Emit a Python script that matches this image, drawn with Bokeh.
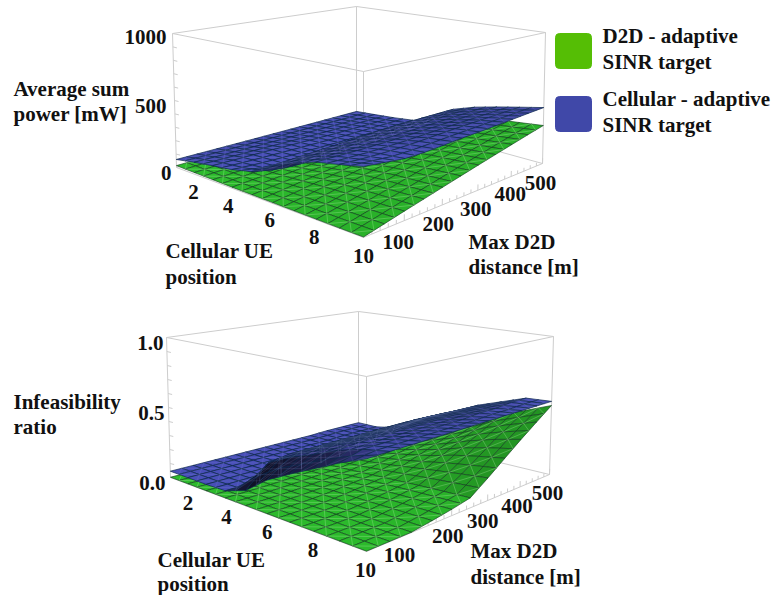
import numpy as np
from bokeh.plotting import figure
from bokeh.models import Range1d, ColumnDataSource
from bokeh.core.properties import value
from bokeh.embed import file_html
from bokeh.resources import INLINE

# ---------- data ----------
POSITIONS = [1, 2, 3, 4, 5, 6, 7, 8, 9, 10]
DISTANCES = [0, 50, 100, 150, 200, 250, 300, 350, 400, 450, 500]

# rows: distance, columns: cellular UE position
POWER_D2D = [
    [14, 12, 10, 8, 7, 6, 5, 4, 3, 3],
    [12, 12, 11, 12, 16, 19, 23, 27, 29, 31],
    [10, 11, 11, 15, 24, 35, 44, 50, 55, 60],
    [9, 10, 12, 19, 34, 50, 64, 74, 81, 88],
    [8, 9, 14, 24, 44, 67, 85, 100, 108, 117],
    [7, 9, 15, 29, 55, 84, 107, 125, 135, 146],
    [6, 9, 17, 35, 66, 100, 129, 150, 162, 175],
    [6, 10, 20, 41, 77, 118, 150, 175, 189, 204],
    [5, 10, 23, 46, 88, 135, 172, 200, 216, 233],
    [5, 12, 26, 52, 99, 151, 193, 225, 243, 262],
    [5, 14, 29, 58, 110, 168, 215, 250, 270, 290],
]
POWER_CELL = [
    [60, 87, 110, 130, 165, 250, 314, 365, 395, 428],
    [55, 80, 104, 116, 130, 252, 312, 360, 385, 410],
    [50, 74, 98, 106, 112, 255, 310, 355, 378, 392],
    [45, 68, 92, 98, 104, 256, 310, 352, 376, 390],
    [40, 62, 84, 92, 100, 258, 310, 350, 378, 395],
    [35, 56, 76, 86, 96, 260, 310, 350, 382, 402],
    [30, 50, 68, 80, 94, 262, 310, 350, 385, 405],
    [25, 44, 62, 76, 92, 260, 310, 350, 387, 410],
    [20, 38, 57, 72, 92, 258, 310, 351, 388, 416],
    [15, 32, 51, 70, 96, 254, 309, 352, 389, 422],
    [10, 27, 45, 68, 104, 250, 309, 352, 390, 427],
]
INFEAS_D2D = [
    [.002, .002, .002, .002, .002, .002, .002, .002, .002, .002],
    [.001, .001, .001, .001, .001, .001, .001, .001, .001, .002],
    [.001, .001, .001, .001, .002, .002, .002, .002, .002, .002],
    [.002, .002, .003, .004, .006, .008, .011, .014, .017, .02],
    [.003, .004, .005, .008, .014, .02, .025, .032, .036, .04],
    [.004, .005, .007, .012, .02, .03, .04, .05, .058, .065],
    [.005, .007, .012, .024, .04, .06, .084, .108, .13, .15],
    [.006, .01, .02, .04, .065, .095, .13, .175, .21, .24],
    [.008, .013, .026, .052, .085, .13, .18, .24, .29, .33],
    [.01, .017, .034, .066, .108, .165, .225, .30, .36, .415],
    [.012, .02, .04, .08, .13, .20, .27, .36, .43, .50],
]
INFEAS_CELL = [
    [.045, .045, .045, .05, .10, .216, .30, .38, .46, .53],
    [.045, .045, .045, .05, .24, .32, .38, .45, .50, .53],
    [.045, .045, .045, .05, .26, .33, .40, .46, .50, .53],
    [.045, .045, .045, .05, .26, .33, .40, .46, .50, .53],
    [.045, .045, .045, .05, .26, .33, .40, .46, .50, .53],
    [.045, .045, .045, .05, .26, .33, .40, .46, .50, .53],
    [.045, .045, .045, .06, .26, .33, .40, .46, .50, .53],
    [.045, .045, .05, .07, .26, .33, .40, .46, .51, .53],
    [.05, .05, .055, .10, .26, .33, .40, .46, .51, .53],
    [.05, .05, .065, .14, .255, .33, .40, .46, .52, .53],
    [.05, .05, .08, .18, .25, .32, .40, .46, .52, .53],
]
POS_TICKS = [2, 4, 6, 8, 10]
DIST_TICKS = [100, 200, 300, 400, 500]
POWER_TICKS = [0, 500, 1000]
INFEAS_TICKS = [0.0, 0.5, 1.0]
GREEN_LEGEND = ["D2D - adaptive", "SINR target"]
BLUE_LEGEND = ["Cellular - adaptive", "SINR target"]

# ---------- layout of the two boxes (page pixels) ----------
FONT = value("Liberation Serif")
GREEN = (42, 178, 42)
BLUE = (70, 76, 176)
LIGHT = np.array([.1, .3, .95])


def homography(quad):
    src = [(0, 0), (1, 0), (1, 1), (0, 1)]
    a, b = [], []
    for (u, v), (x, y) in zip(src, quad):
        a.append([u, v, 1, 0, 0, 0, -u * x, -v * x]); b.append(x)
        a.append([0, 0, 0, u, v, 1, -u * y, -v * y]); b.append(y)
    return np.append(np.linalg.solve(np.array(a, float), np.array(b, float)), 1).reshape(3, 3)


class Box:
    def __init__(self, floor, roof, zmax):
        self.floor, self.roof, self.zmax = floor, roof, zmax
        self.h0, self.h1 = homography(floor), homography(roof)

    def uv(self, pos, d):
        return (pos - POSITIONS[0]) / (POSITIONS[-1] - POSITIONS[0]), d / DISTANCES[-1]

    def xy(self, pos, d, z):
        u, v = self.uv(pos, d)
        q = np.array([u, v, 1.0])
        a, b = self.h0 @ q, self.h1 @ q
        a, b = a[:2] / a[2], b[:2] / b[2]
        return a + (b - a) * z / self.zmax


def surface(box, table, base, shade, mesh, mesh_alpha, seam, seam_alpha, fig):
    t = np.array(table, float)
    P, D = np.array(POSITIONS, float), np.array(DISTANCES, float)
    sub = 2
    facets = []
    seams_x, seams_y = [], []

    def z_at(i, j, a, b):
        return (t[j, i] * (1 - a) * (1 - b) + t[j, i + 1] * a * (1 - b)
                + t[j + 1, i] * (1 - a) * b + t[j + 1, i + 1] * a * b)

    for j in range(len(D) - 1):
        for i in range(len(P) - 1):
            for sj in range(sub):
                for si in range(sub):
                    pts, raw = [], []
                    for da, db in [(0, 0), (1, 0), (1, 1), (0, 1)]:
                        a, b = (si + da) / sub, (sj + db) / sub
                        pp = P[i] + a * (P[i + 1] - P[i])
                        dd = D[j] + b * (D[j + 1] - D[j])
                        z = z_at(i, j, a, b)
                        pts.append(box.xy(pp, dd, z))
                        raw.append((*box.uv(pp, dd), z / box.zmax))
                    r = np.array(raw)
                    n = np.cross(r[2] - r[0], r[3] - r[1])
                    n = n / np.linalg.norm(n)
                    b_ = max(0.0, float(n @ LIGHT)) / LIGHT[2]
                    k = min(1.05, shade[0] + shade[1] * b_ ** shade[2])
                    col = "#%02x%02x%02x" % tuple(int(min(255, c * k)) for c in base)
                    depth = r[:, 0].mean() - r[:, 1].mean()
                    pts = np.array(pts)
                    facets.append((depth, pts[:, 0].tolist(), pts[:, 1].tolist(), col))
                    ci = (i * sub + si + j * sub + sj) % 2
                    c0, c1 = (0, 2) if ci else (1, 3)
                    seams_x.append([pts[c0, 0], pts[c1, 0]])
                    seams_y.append([pts[c0, 1], pts[c1, 1]])
    facets.sort(key=lambda f: f[0])
    src = ColumnDataSource(dict(xs=[f[1] for f in facets], ys=[f[2] for f in facets],
                                c=[f[3] for f in facets]))
    fig.patches("xs", "ys", source=src, fill_color="c", fill_alpha=1.0,
                line_color=mesh, line_width=0.8, line_alpha=mesh_alpha)
    fig.multi_line(seams_x, seams_y, line_color=seam, line_alpha=seam_alpha, line_width=0.8)


def frame(box, fig, z_minor):
    f, r = box.floor, box.roof
    xs, ys = [], []
    for k in range(4):
        m = (k + 1) % 4
        xs += [[f[k][0], f[m][0]], [r[k][0], r[m][0]], [f[k][0], r[k][0]]]
        ys += [[f[k][1], f[m][1]], [r[k][1], r[m][1]], [f[k][1], r[k][1]]]
    for z in z_minor:
        a = box.xy(POSITIONS[0], 0, z)
        xs.append([a[0], a[0] + 4]); ys.append([a[1], a[1] + 1])
    for d in range(20, 501, 20):
        a = box.xy(POSITIONS[-1], d, 0)
        b = box.xy(POSITIONS[-1], d, box.zmax * (.04 if d % 100 == 0 else .025))
        xs.append([a[0], b[0]]); ys.append([a[1], b[1]])
    fig.multi_line(xs, ys, line_color="#cdcdcd", line_width=1)


def words(fig, x, y, text, align="left"):
    fig.text(x, y, text=text, text_font=FONT, text_font_style="bold", text_font_size="21px",
             text_align=align, text_baseline="middle", text_color="#111111")


p = figure(width=771, height=595, x_range=Range1d(0, 771), y_range=Range1d(595, 0),
           x_axis_type=None, y_axis_type=None, toolbar_location=None,
           output_backend="svg", min_border=0, outline_line_color=None,
           background_fill_color="white", border_fill_color="white")

top = Box([(176, 167), (363, 237), (542, 163), (356, 112)],
          [(172, 33), (363, 71), (545, 32), (356, 6)], 1000.0)
low = Box([(170, 477), (366, 551), (549, 474), (358, 428)],
          [(166, 337), (366, 376), (553, 336), (358, 311)], 1.0)

GREEN_SHADE = (.62, .43, 1.0)
BLUE_SHADE = (.15, .9, 1.8)
frame(top, p, [100 * k for k in range(1, 10)])
surface(top, POWER_D2D, GREEN, GREEN_SHADE, "#123f1e", .8, "#a8e8a0", .42, p)
surface(top, POWER_CELL, BLUE, BLUE_SHADE, "#0f2a4e", .9, "#9aa0e0", .18, p)
frame(low, p, [.1 * k for k in range(1, 10)])
surface(low, INFEAS_D2D, GREEN, GREEN_SHADE, "#123f1e", .8, "#a8e8a0", .42, p)
surface(low, INFEAS_CELL, BLUE, BLUE_SHADE, "#0f2a4e", .9, "#9aa0e0", .18, p)

# tick labels: projected tick position plus a small offset
for box, ticks, fmt, zx, zoff, posoff, distoff in [
    (top, POWER_TICKS, "{:.0f}", [171, 166, 166], [5, 5, 3],
     [(-1, 18), (-4, 18), (-3, 16), (-2, 17), (0, 18)],
     [(-6, 21), (-4, 19), (-2, 19), (-1, 18), (-2, 19)]),
    (low, INFEAS_TICKS, "{:.1f}", [165, 164, 163], [5, 5, 5],
     [(0, 19), (1, 19), (0, 18), (-1, 18), (-1, 18)],
     [(-12, 22), (-4, 20), (-5, 20), (-3, 19), (-2, 18)]),
]:
    for z, x, o in zip(ticks, zx, zoff):
        a = box.xy(POSITIONS[0], 0, z)
        words(p, [x], [a[1] + o], [fmt.format(z)], "right")
    for t, o in zip(POS_TICKS, posoff):
        a = box.xy(t, 0, 0)
        words(p, [a[0] + o[0]], [a[1] + o[1]], [str(t)], "center")
    for t, o in zip(DIST_TICKS, distoff):
        a = box.xy(POSITIONS[-1], t, 0)
        words(p, [a[0] + o[0]], [a[1] + o[1]], [str(t)], "center")

words(p, [13, 13], [88, 113], ["Average sum", "power [mW]"])
words(p, [165, 165], [250, 276], ["Cellular UE", "position"])
words(p, [468, 468], [241, 266], ["Max D2D", "distance [m]"])
words(p, [13, 13], [401, 426], ["Infeasibility", "ratio"])
words(p, [157, 157], [559, 583], ["Cellular UE", "position"])
words(p, [470, 470], [550, 576], ["Max D2D", "distance [m]"])

p.quad(left=[555], right=[591], top=[33], bottom=[68], fill_color="#55be05", line_color="#55be05",
       border_radius=4)
p.quad(left=[555], right=[591], top=[96], bottom=[131], fill_color="#4048a8", line_color="#4048a8",
       border_radius=4)
words(p, [602, 602], [35, 61], GREEN_LEGEND)
words(p, [602, 602], [98, 124], BLUE_LEGEND)

open("out.html", "w").write(file_html(p, INLINE))
